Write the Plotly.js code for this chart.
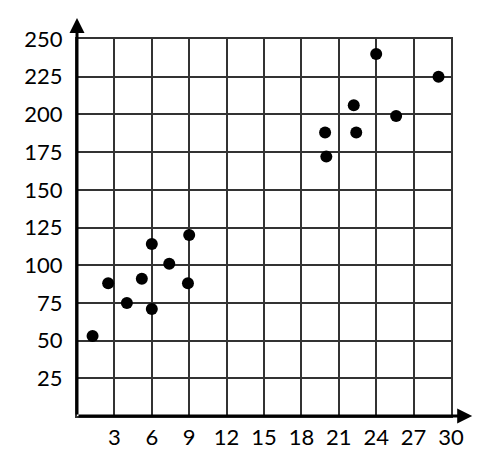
<!DOCTYPE html>
<html><head><meta charset="utf-8">
<script src="https://cdn.plot.ly/plotly-3.0.1.min.js"></script>
<style>html,body{margin:0;padding:0;background:#fff}#chart{width:504px;height:452px}</style>
</head><body><div id="chart"></div>
<script>
const xValues = [1.25, 2.5, 4, 5.2, 6, 6, 7.4, 9, 8.9, 24, 29, 22.2, 25.6, 19.9, 22.4, 20];
const yValues = [53, 88, 75, 91, 114, 71, 101, 120, 88, 240, 225, 206, 199, 188, 188, 172];
const xTicks = [3, 6, 9, 12, 15, 18, 21, 24, 27, 30];
const yTicks = [25, 50, 75, 100, 125, 150, 175, 200, 225, 250];

const font = {family: 'Lato, sans-serif', size: 22, color: '#000'};
const data = [{
  x: xValues, y: yValues, type: 'scatter', mode: 'markers',
  marker: {color: '#000', size: 12}, cliponaxis: false, hoverinfo: 'none'
}];
const layout = {
  width: 504, height: 452,
  margin: {l: 77, r: 53, t: 39, b: 36},
  paper_bgcolor: '#fff', plot_bgcolor: '#fff',
  showlegend: false,
  xaxis: {range: [0, 30], tickvals: xTicks, ticktext: xTicks.map(String),
    showgrid: true, gridcolor: '#333', gridwidth: 2, zeroline: false,
    showline: true, mirror: true, linecolor: '#333', linewidth: 2,
    ticks: '', tickfont: font, ticklabelstandoff: 1, fixedrange: true},
  yaxis: {range: [0, 250], tickvals: yTicks, ticktext: yTicks.map(String),
    showgrid: true, gridcolor: '#333', gridwidth: 2, zeroline: false,
    showline: true, mirror: true, linecolor: '#333', linewidth: 2,
    ticks: '', tickfont: font, ticklabelstandoff: 8, fixedrange: true},
  annotations: [
    {xref: 'x', yref: 'y', axref: 'x', ayref: 'y', x: 31.7, y: 0, ax: 0, ay: 0,
     text: '', showarrow: true, arrowhead: 2, arrowsize: 1, arrowwidth: 3, arrowcolor: '#000'},
    {xref: 'x', yref: 'y', axref: 'x', ayref: 'y', x: 0, y: 264, ax: 0, ay: 0,
     text: '', showarrow: true, arrowhead: 2, arrowsize: 1, arrowwidth: 3, arrowcolor: '#000'}
  ]
};
Plotly.newPlot('chart', data, layout, {displayModeBar: false, staticPlot: true});
</script></body></html>
